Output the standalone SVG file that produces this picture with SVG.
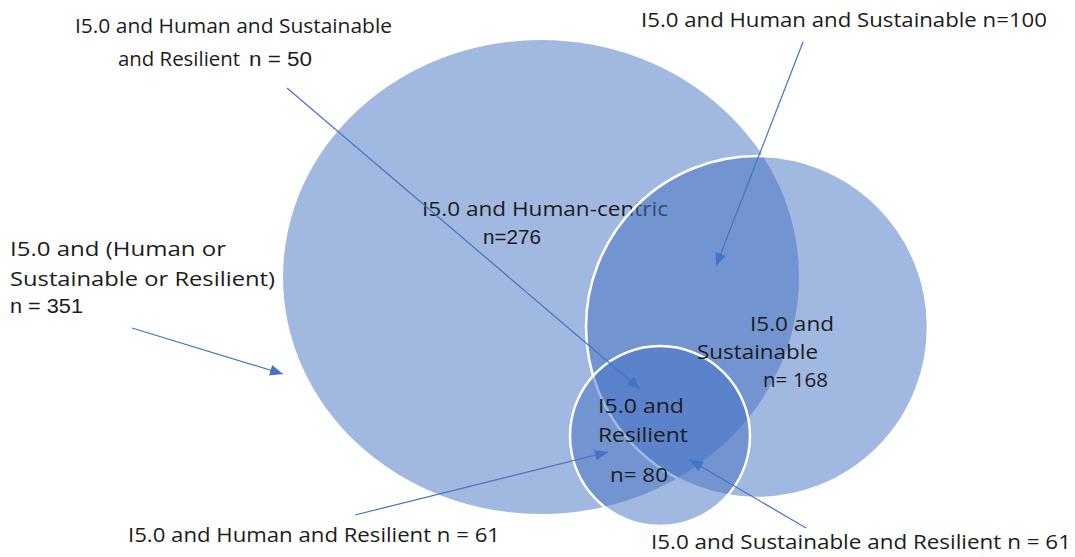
<svg xmlns="http://www.w3.org/2000/svg" width="1075" height="557" viewBox="0 0 1075 557">
<defs>
<marker id="ah" viewBox="0 0 12 10" refX="12" refY="5" markerWidth="13" markerHeight="11" markerUnits="userSpaceOnUse" orient="auto">
<path d="M0,0 L12,5 L0,10 z" fill="#4472C4"/>
</marker>
</defs>
<style>
.c{fill:#4472C4;fill-opacity:0.5}
.w{stroke:#ffffff;stroke-width:2.5}
.t{font-family:"Open Sans","Noto Sans",sans-serif;font-size:20.5px;fill:#1c1c1c}
.a{font-family:"Liberation Sans",Arial,sans-serif;font-size:20px;fill:#1c1c1c}
.ar{stroke:#4472C4;stroke-width:1.2;fill:none;marker-end:url(#ah)}
</style>
<rect width="1075" height="557" fill="#ffffff"/>
<g id="human">
<ellipse class="c" cx="541" cy="277" rx="258" ry="237"/>
<text class="t" x="422" y="216" textLength="246" lengthAdjust="spacingAndGlyphs">I5.0 and Human-centric</text>
<text class="a" x="483" y="244" textLength="58" lengthAdjust="spacingAndGlyphs">n=276</text>
</g>
<g id="sustainable">
<circle class="c w" cx="757" cy="327" r="171"/>
</g>
<g id="resilient">
<circle class="c w" cx="660" cy="436" r="90"/>
</g>
<g id="sustainable-label">
<text class="t" x="750" y="331" textLength="84" lengthAdjust="spacingAndGlyphs">I5.0 and</text>
<text class="t" x="697" y="359" textLength="121" lengthAdjust="spacingAndGlyphs">Sustainable</text>
<text class="t" x="763" y="387" textLength="65" lengthAdjust="spacingAndGlyphs">n= 168</text>
</g>
<g id="resilient-label">
<text class="t" x="598" y="413" textLength="86" lengthAdjust="spacingAndGlyphs">I5.0 and</text>
<text class="t" x="598" y="442" textLength="90" lengthAdjust="spacingAndGlyphs">Resilient</text>
<text class="t" x="610" y="482" textLength="58" lengthAdjust="spacingAndGlyphs">n= 80</text>
</g>
<g id="label-hsr">
<text class="t" x="75" y="33" textLength="317" lengthAdjust="spacingAndGlyphs">I5.0 and Human and Sustainable</text>
<text class="t" x="118" y="66" textLength="122" lengthAdjust="spacingAndGlyphs">and Resilient</text>
<text class="a" x="249" y="66" textLength="63" lengthAdjust="spacingAndGlyphs">n = 50</text>
</g>
<g id="label-hs">
<text class="t" x="641" y="27" textLength="406" lengthAdjust="spacingAndGlyphs">I5.0 and Human and Sustainable n=100</text>
</g>
<g id="label-any">
<text class="t" x="10" y="256" textLength="216" lengthAdjust="spacingAndGlyphs">I5.0 and (Human or</text>
<text class="t" x="10" y="286" textLength="265" lengthAdjust="spacingAndGlyphs">Sustainable or Resilient)</text>
<text class="a" x="10" y="313" textLength="73" lengthAdjust="spacingAndGlyphs">n = 351</text>
</g>
<g id="label-hr">
<text class="t" x="128" y="542" textLength="372" lengthAdjust="spacingAndGlyphs">I5.0 and Human and Resilient n = 61</text>
</g>
<g id="label-sr">
<text class="t" x="651" y="549" textLength="420" lengthAdjust="spacingAndGlyphs">I5.0 and Sustainable and Resilient n = 61</text>
</g>
<g id="connectors">
<line class="ar" x1="287" y1="88" x2="640" y2="389"/>
<line class="ar" x1="803" y1="42" x2="716" y2="266"/>
<line class="ar" x1="132" y1="328" x2="283" y2="374"/>
<line class="ar" x1="355" y1="515" x2="608" y2="452"/>
<line class="ar" x1="806" y1="528" x2="690" y2="460"/>
</g>
</svg>
